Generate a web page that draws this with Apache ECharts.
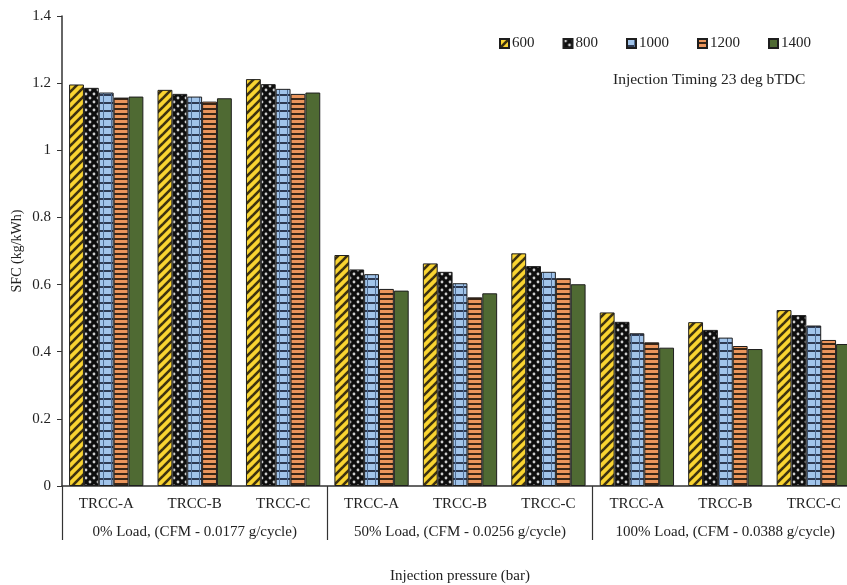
<!DOCTYPE html>
<html>
<head>
<meta charset="utf-8">
<script src="https://cdn.jsdelivr.net/npm/echarts@6/dist/echarts.min.js"></script>
<style>
  html, body { margin: 0; padding: 0; background: #ffffff; }
  #chart { width: 847px; height: 585px; }
</style>
</head>
<body>
<div id="chart"></div>
<script>
// Test configurations and operating groups
const configs = ['TRCC-A', 'TRCC-B', 'TRCC-C', 'TRCC-A', 'TRCC-B', 'TRCC-C', 'TRCC-A', 'TRCC-B', 'TRCC-C'];
const loadGroups = ['0% Load, (CFM - 0.0177 g/cycle)', '50% Load, (CFM - 0.0256 g/cycle)', '100% Load, (CFM - 0.0388 g/cycle)'];
const pressures = ['600', '800', '1000', '1200', '1400'];

// Specific fuel consumption (kg/kWh) per injection pressure
const sfc600  = [1.196, 1.180, 1.212, 0.688, 0.663, 0.693, 0.517, 0.488, 0.524];
const sfc800  = [1.186, 1.168, 1.197, 0.645, 0.638, 0.655, 0.489, 0.465, 0.509];
const sfc1000 = [1.172, 1.160, 1.183, 0.631, 0.604, 0.638, 0.455, 0.442, 0.478];
const sfc1200 = [1.157, 1.145, 1.168, 0.587, 0.562, 0.619, 0.428, 0.417, 0.435];
const sfc1400 = [1.160, 1.155, 1.172, 0.582, 0.574, 0.601, 0.412, 0.408, 0.423];

const yTicks = [0, 0.2, 0.4, 0.6, 0.8, 1, 1.2, 1.4];

const FONT = '"Liberation Serif", "Times New Roman", serif';
const INK = '#222222';

// Fill patterns drawn on small tiles
function tile(w, h, draw) {
  const c = document.createElement('canvas');
  c.width = w; c.height = h;
  draw(c.getContext('2d'), w, h);
  return { image: c, repeat: 'repeat' };
}

const fills = [
  // yellow with dark diagonal stripes
  tile(9, 9, (g, w, h) => {
    g.fillStyle = '#f9d431'; g.fillRect(0, 0, w, h);
    g.strokeStyle = '#3d3110'; g.lineWidth = 2.6;
    for (let k = -1; k <= 1; k++) {
      g.beginPath();
      g.moveTo(k * w - 1, h + 1);
      g.lineTo(k * w + w + 1, -1);
      g.stroke();
    }
  }),
  // black with light dots
  tile(8, 8, (g, w, h) => {
    g.fillStyle = '#0e0e0e'; g.fillRect(0, 0, w, h);
    g.fillStyle = '#cfcfcf';
    g.beginPath(); g.arc(2, 2, 1.4, 0, Math.PI * 2); g.fill();
    g.beginPath(); g.arc(6, 6, 1.4, 0, Math.PI * 2); g.fill();
  }),
  // light blue check
  tile(8, 8, (g, w, h) => {
    g.fillStyle = '#a1c4ea'; g.fillRect(0, 0, w, h);
    g.fillStyle = '#2e3a52'; g.fillRect(0, 6, w, 2);
    g.fillStyle = '#4f6d94'; g.fillRect(7, 0, 1, h);
  }),
  // orange with dark horizontal stripes
  tile(4, 5, (g, w, h) => {
    g.fillStyle = '#ea955c'; g.fillRect(0, 0, w, h);
    g.fillStyle = '#3a2616'; g.fillRect(0, 3, w, 2);
  }),
  // solid olive green
  '#4f6a33'
];

const seriesValues = [sfc600, sfc800, sfc1000, sfc1200, sfc1400];

const series = pressures.map((name, i) => ({
  name: name,
  type: 'bar',
  xAxisIndex: 0,
  yAxisIndex: 0,
  barGap: '0%',
  barCategoryGap: '16%',
  data: seriesValues[i],
  itemStyle: { color: fills[i], borderColor: '#1e1e1e', borderWidth: 1 },
  emphasis: { disabled: true },
  animation: false
}));

const chart = echarts.init(document.getElementById('chart'), null, { renderer: 'canvas' });

chart.setOption({
  backgroundColor: '#ffffff',
  animation: false,
  textStyle: { fontFamily: FONT, color: INK },
  grid: { left: 62, right: -11, top: 16, bottom: 99, containLabel: false, outerBoundsMode: 'none' },
  legend: {
    left: 494,
    top: 31,
    itemWidth: 9,
    itemHeight: 9,
    itemGap: 28,
    icon: 'rect',
    textStyle: { fontFamily: FONT, fontSize: 15, color: INK, padding: [0, 0, 0, -2] },
    data: pressures
  },
  xAxis: [
    {
      type: 'category',
      data: configs,
      position: 'bottom',
      axisLine: { show: true, lineStyle: { color: '#333333', width: 1.5 } },
      axisTick: { show: false },
      axisLabel: { interval: 0, margin: 11, fontFamily: FONT, fontSize: 15, color: INK },
      splitLine: { show: false }
    },
    {
      type: 'category',
      data: loadGroups,
      position: 'bottom',
      axisLine: { show: false },
      axisTick: { show: true, length: 54, alignWithLabel: false, interval: 0, lineStyle: { color: '#333333', width: 1.2 } },
      axisLabel: { interval: 0, margin: 39, fontFamily: FONT, fontSize: 15, color: INK },
      splitLine: { show: false },
      name: 'Injection pressure (bar)',
      nameLocation: 'middle',
      nameGap: 83,
      nameMoveOverlap: false,
      nameTextStyle: { fontFamily: FONT, fontSize: 15, color: INK }
    }
  ],
  yAxis: {
    type: 'value',
    min: 0,
    max: 1.4,
    interval: 0.2,
    name: 'SFC (kg/kWh)',
    nameLocation: 'middle',
    nameGap: 38,
    nameMoveOverlap: false,
    nameTextStyle: { fontFamily: FONT, fontSize: 14, color: INK },
    axisLine: { show: true, lineStyle: { color: '#333333', width: 1.5 } },
    axisTick: { show: true, length: 5, inside: false, lineStyle: { color: '#333333' } },
    axisLabel: {
      margin: 11,
      fontFamily: FONT,
      fontSize: 15,
      color: INK,
      formatter: (v) => {
        const hit = yTicks.find(t => Math.abs(t - v) < 1e-9);
        return String(hit !== undefined ? hit : v);
      }
    },
    splitLine: { show: false }
  },
  graphic: [
    {
      type: 'text',
      left: 613,
      top: 72,
      style: { text: 'Injection Timing 23 deg bTDC', fontFamily: FONT, fontSize: 15.5, fill: INK }
    }
  ],
  series: series
});
</script>
</body>
</html>
